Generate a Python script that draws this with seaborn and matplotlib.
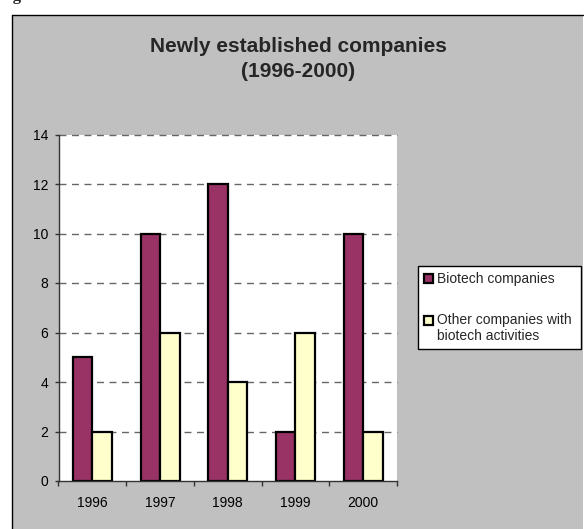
import matplotlib
matplotlib.use("Agg")
import matplotlib.pyplot as plt
from matplotlib.patches import Rectangle, Patch
from matplotlib.lines import Line2D
from matplotlib.legend_handler import HandlerPatch
import seaborn as sns
import pandas as pd

# Newly established companies per year
years = ["1996", "1997", "1998", "1999", "2000"]
biotech = [5, 10, 12, 2, 10]
other = [2, 6, 4, 6, 2]
series_names = ["Biotech companies", "Other companies with\nbiotech activities"]
y_ticks = [0, 2, 4, 6, 8, 10, 12, 14]

PURPLE = "#993366"
CREAM = "#FFFFCC"
PANEL = "#C0C0C0"

sns.set_style("white")
plt.rcParams["font.family"] = ["Liberation Sans", "DejaVu Sans"]

W, H = 584, 529
fig = plt.figure(figsize=(W / 100, H / 100), dpi=100)
fig.patch.set_facecolor("white")


def fx(px):
    return px / W


def fy(py):
    return 1 - py / H


# grey chart panel with its framing lines
fig.patches.append(Rectangle((fx(11.5), 0), fx(583) - fx(11.5), fy(14.5),
                             transform=fig.transFigure, facecolor=PANEL,
                             edgecolor="none", zorder=-10))
fig.lines.append(Line2D([fx(11.5), fx(11.5)], [0, fy(14.5)], transform=fig.transFigure,
                        color="black", lw=1.0, zorder=-5))
fig.lines.append(Line2D([fx(11.5), fx(583)], [fy(14.5), fy(14.5)], transform=fig.transFigure,
                        color="black", lw=1.0, zorder=-5))

# caption heading running above the panel
fig.text(fx(-1), fy(0.5), "Figure", family=["Liberation Serif", "DejaVu Serif"],
         fontweight="bold", fontsize=12, ha="left", va="baseline")

df = pd.DataFrame({
    "year": years * 2,
    "count": biotech + other,
    "series": [series_names[0]] * len(years) + [series_names[1]] * len(years),
})

ax = fig.add_axes([fx(58.5), fy(481), fx(397) - fx(58.5), fy(134.5) - fy(481)])
ax.set_zorder(2)
ax.set_facecolor("white")
sns.barplot(data=df, x="year", y="count", hue="series", order=years,
            hue_order=series_names, palette=[PURPLE, CREAM], width=0.575,
            edgecolor="black", linewidth=1.6, saturation=1, ax=ax, legend=False,
            zorder=3)

ax.set_xlim(-0.5, len(years) - 0.5)
ax.set_ylim(0, 14)
ax.set_yticks(y_ticks)
ax.set_yticklabels([str(v) for v in y_ticks])
ax.set_xlabel("")
ax.set_ylabel("")

# dashed horizontal gridlines
for v in y_ticks[1:]:
    ax.axhline(v, color="#666666", lw=1.0, ls=(0, (5, 4)), zorder=1, clip_on=False)

for side in ["top", "right"]:
    ax.spines[side].set_visible(False)
for side in ["left", "bottom"]:
    ax.spines[side].set_color("#333333")
    ax.spines[side].set_linewidth(1.0)
    ax.spines[side].set_zorder(4)

# category labels centred, tick marks between categories
ax.set_xticks(range(len(years)))
ax.set_xticks([i - 0.5 for i in range(len(years) + 1)], minor=True)
ax.tick_params(axis="x", which="major", length=0, pad=11, labelsize=10, labelcolor="black")
ax.tick_params(axis="x", which="minor", direction="out", length=3.6, width=1.0,
               color="#333333", bottom=True)
ax.tick_params(axis="y", direction="out", length=3.0, width=1.0, color="#333333",
               pad=4.3, labelsize=10, labelcolor="black", left=True)

# chart title
fig.text(fx(298), fy(52), "Newly established companies", ha="center", va="baseline",
         fontsize=15, fontweight="bold")
fig.text(fx(298), fy(77), "(1996-2000)", ha="center", va="baseline",
         fontsize=15, fontweight="bold")

# legend
h1 = Patch(facecolor=PURPLE, edgecolor="black", linewidth=1.6)
h2 = Patch(facecolor=CREAM, edgecolor="black", linewidth=1.6)


def first_line_square(legend, orig_handle, xdescent, ydescent, width, height, fontsize):
    return Rectangle((-xdescent, -ydescent + 0.58 * fontsize), width, height)


def plain_square(legend, orig_handle, xdescent, ydescent, width, height, fontsize):
    return Rectangle((-xdescent, -ydescent), width, height)


leg = fig.legend([h1, h2], series_names, loc="upper left",
                 bbox_to_anchor=(fx(418), fy(266), fx(581) - fx(418), 0.0),
                 bbox_transform=fig.transFigure, mode="expand", borderaxespad=0,
                 fontsize=10, handlelength=0.62, handleheight=0.62, handletextpad=0.3,
                 labelspacing=1.9, borderpad=0.45, fancybox=False, frameon=True,
                 handler_map={h1: HandlerPatch(patch_func=plain_square),
                              h2: HandlerPatch(patch_func=first_line_square)})
leg.set_zorder(5)
leg.get_frame().set_edgecolor("black")
leg.get_frame().set_linewidth(1.0)
leg.get_frame().set_facecolor("white")
leg.get_frame().set_alpha(1.0)

fig.savefig("out.png", dpi=100)
